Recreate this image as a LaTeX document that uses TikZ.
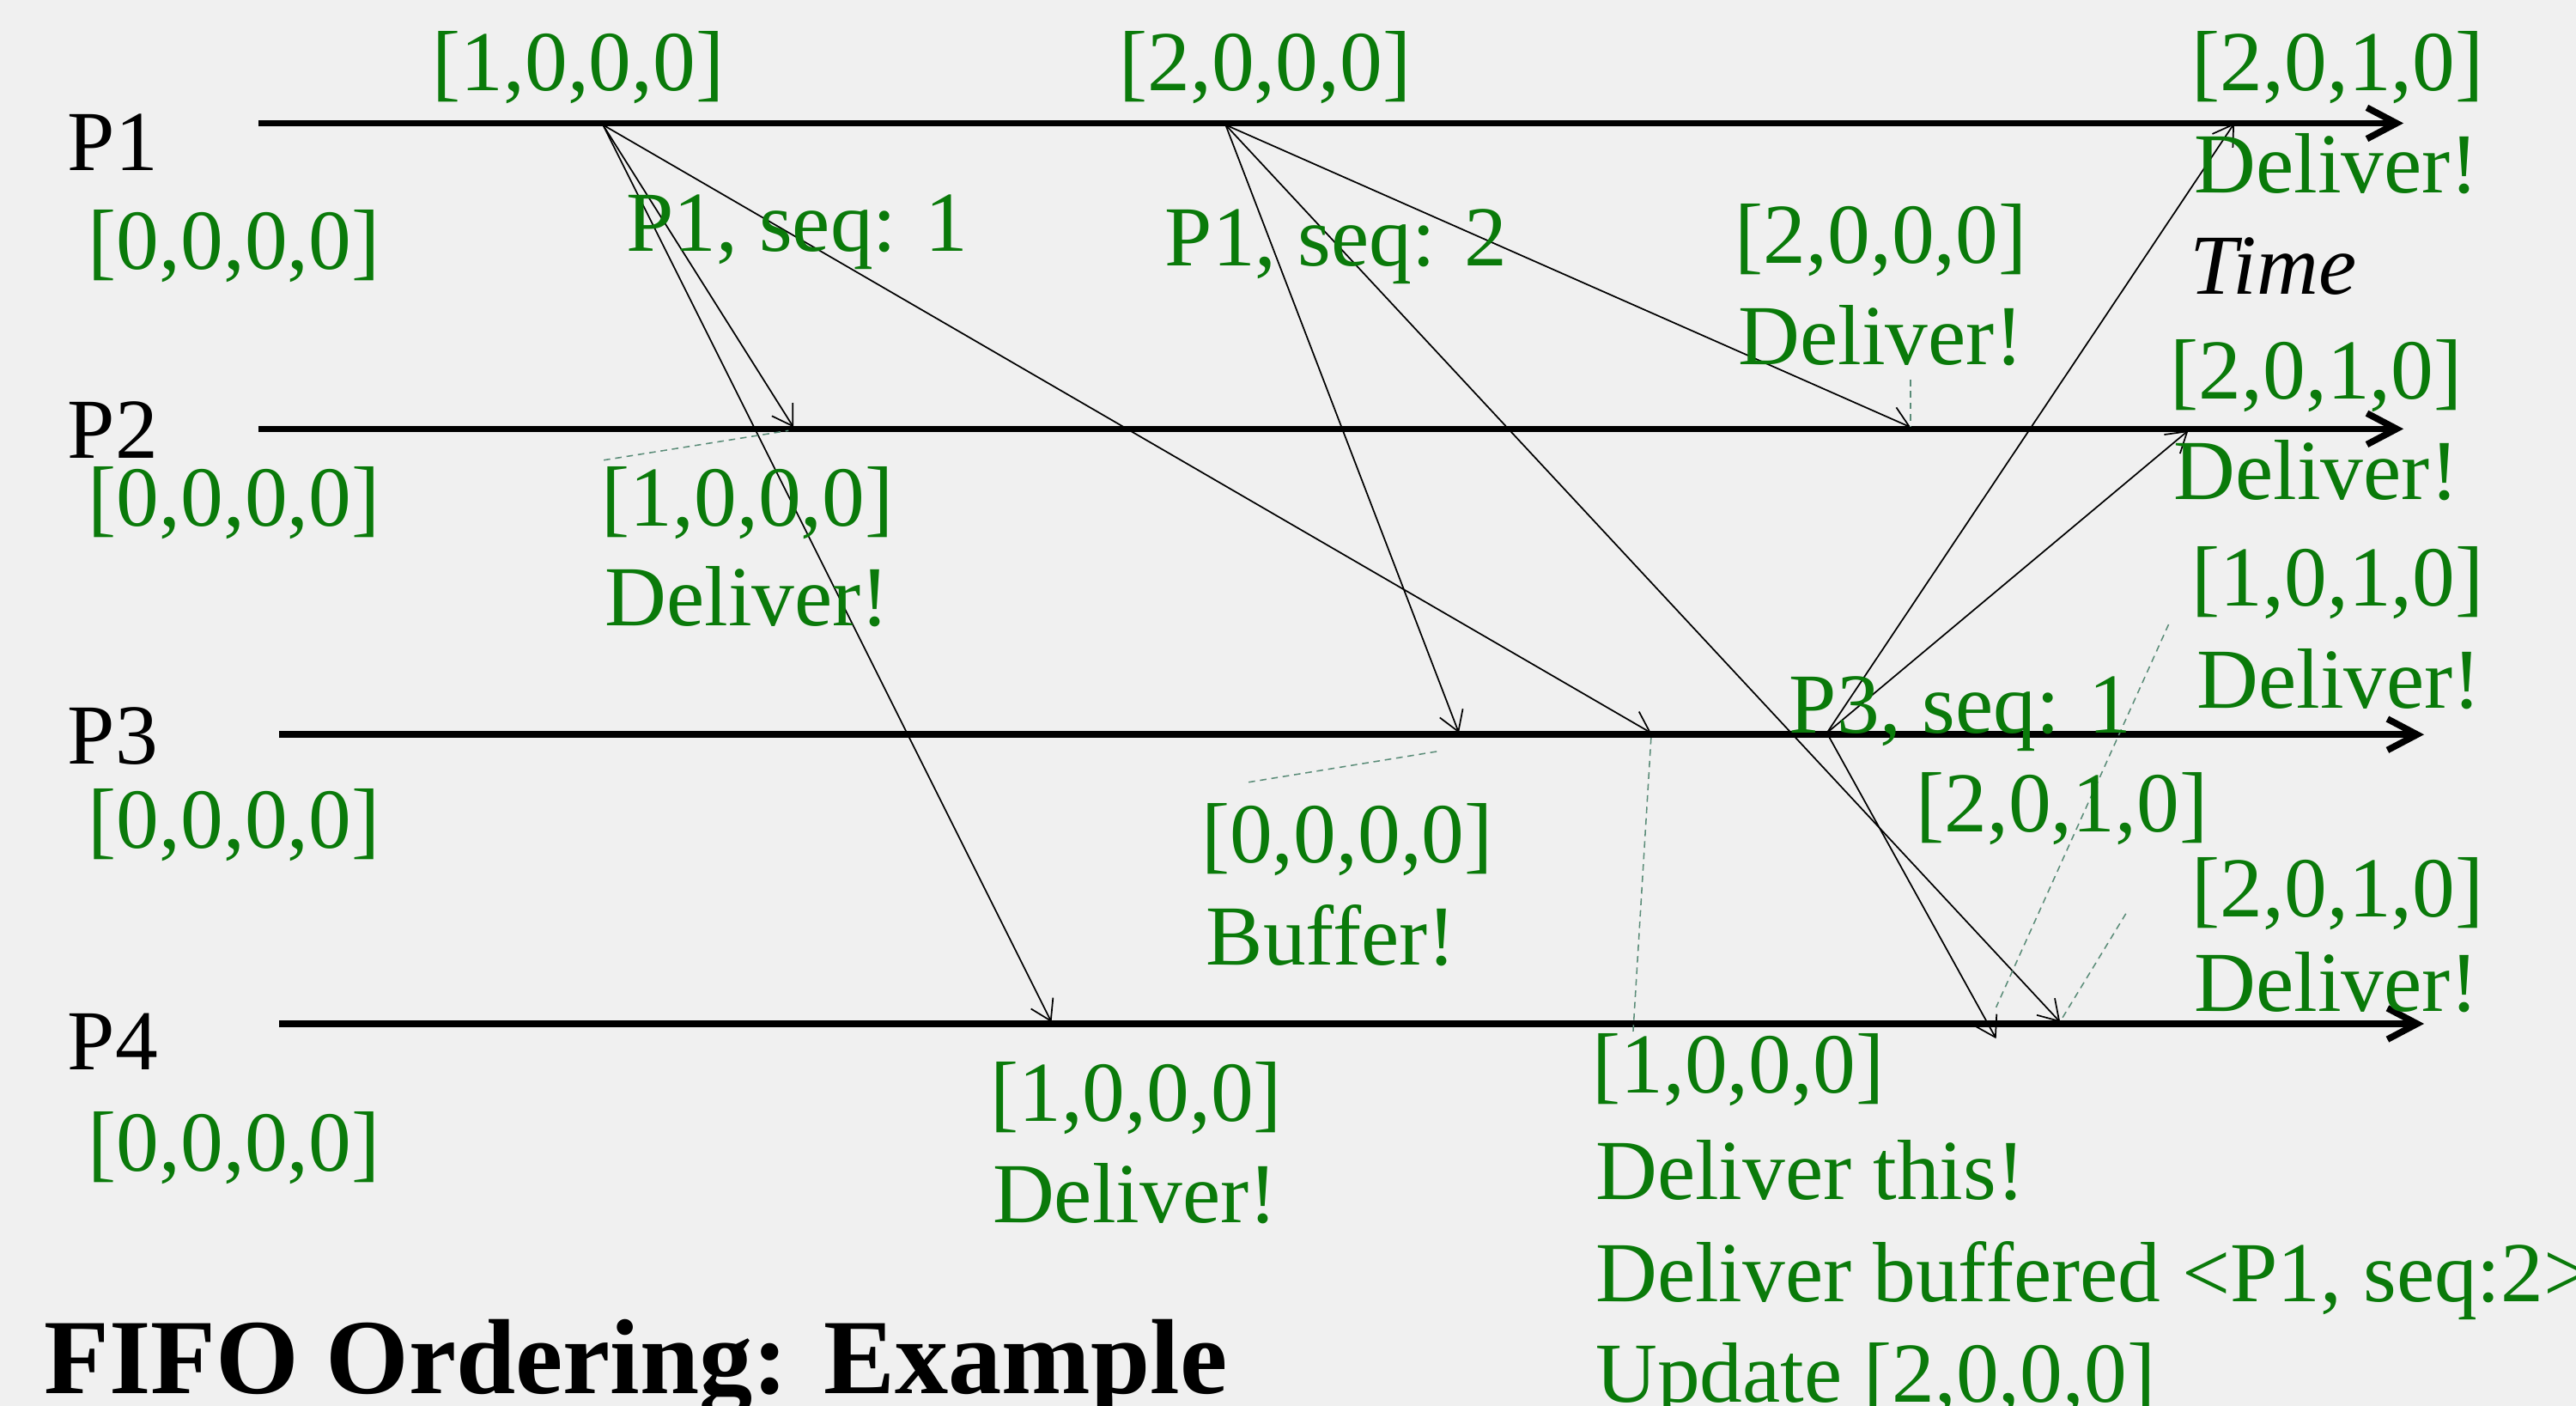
\documentclass[tikz,border=0pt]{standalone}
\usepackage{fontspec}
\setmainfont{Liberation Serif}
\usetikzlibrary{arrows.meta}
\definecolor{bgcol}{RGB}{240,240,240}
\definecolor{lblgreen}{RGB}{10,122,10}
\definecolor{ptrcol}{RGB}{90,140,120}
\begin{document}
\begin{tikzpicture}[x=1pt,y=-1pt,
  lbl/.style={anchor=base west, inner sep=0pt, text=lblgreen, font=\fontsize{52}{60}\selectfont},
  proc/.style={anchor=base west, inner sep=0pt, text=black, font=\fontsize{52}{60}\selectfont},
  titletext/.style={anchor=base west, inner sep=0pt, text=black, font=\fontsize{65}{70}\selectfont\bfseries},
  timeline/.style={line width=4pt, -{Straight Barb[length=18pt,width=19pt]}},
  msg/.style={line width=0.9pt, -{Straight Barb[length=12pt,width=15pt]}},
  ptrline/.style={draw=ptrcol, line width=0.8pt, dash pattern=on 4pt off 3pt}]
\useasboundingbox (0,0) rectangle (1568,855.6);
\clip (0,0) rectangle (1568,855.6);
\fill[bgcol] (0,0) rectangle (1568,855.6);

% timelines
\coordinate (p1s) at (157.5,75);  \coordinate (p1e) at (1463,75);
\coordinate (p2s) at (157.5,261); \coordinate (p2e) at (1463,261);
\coordinate (p3s) at (170,447);   \coordinate (p3e) at (1475.5,447);
\coordinate (p4s) at (170,623);   \coordinate (p4e) at (1475.5,623);
\draw[timeline] (p1s) -- (p1e);
\draw[timeline] (p2s) -- (p2e);
\draw[timeline] (p3s) -- (p3e);
\draw[timeline] (p4s) -- (p4e);

% events
\coordinate (sa) at (367,76);
\coordinate (sb) at (746,76);
\coordinate (sc) at (1112,446);
\coordinate (ra2) at (483,260);
\coordinate (ra4) at (640,622);
\coordinate (ra3) at (1005,446);
\coordinate (rb3) at (888,446);
\coordinate (rb2) at (1163,260);
\coordinate (rb4) at (1254,622);
\coordinate (rc1) at (1360,75);
\coordinate (rc2) at (1332,262);
\coordinate (rc4) at (1215,632);

\draw[msg] (sa) -- (ra2);
\draw[msg] (sa) -- (ra4);
\draw[msg] (sa) -- (ra3);
\draw[msg] (sb) -- (rb3);
\draw[msg] (sb) -- (rb2);
\draw[msg] (sb) -- (rb4);
\draw[msg] (sc) -- (rc1);
\draw[msg] (sc) -- (rc2);
\draw[msg] (sc) -- (rc4);

% dashed pointers
\coordinate (g1a) at (367.5,280); \coordinate (g1b) at (480,262);
\coordinate (g2a) at (760,476);   \coordinate (g2b) at (876.5,457);
\coordinate (g3a) at (1163,231);  \coordinate (g3b) at (1163,260);
\coordinate (g4a) at (1005,449);  \coordinate (g4b) at (994,629);
\coordinate (g5a) at (1320,380);  \coordinate (g5b) at (1215,613);
\coordinate (g6a) at (1294,556);  \coordinate (g6b) at (1255,620);
\draw[ptrline] (g1a) -- (g1b);
\draw[ptrline] (g2a) -- (g2b);
\draw[ptrline] (g3a) -- (g3b);
\draw[ptrline] (g4a) -- (g4b);
\draw[ptrline] (g5a) -- (g5b);
\draw[ptrline] (g6a) -- (g6b);

% process labels
\node[proc] (l1) at (41,104) {P1};
\node[proc] (l2) at (41,279) {P2};
\node[proc] (l3) at (41,465) {P3};
\node[proc] (l4) at (41,651) {P4};
\node[lbl] (v1) at (53.5,164) {[0,0,0,0]};
\node[lbl] (v2) at (53.5,320) {[0,0,0,0]};
\node[lbl] (v3) at (53.5,516) {[0,0,0,0]};
\node[lbl] (v4) at (53.5,712.6) {[0,0,0,0]};

% P1 labels
\node[lbl] (t1) at (263,55) {[1,0,0,0]};
\node[lbl] (t2) at (681,55) {[2,0,0,0]};
\node[lbl] (t3) at (1334,55) {[2,0,1,0]};
\node[lbl] (d1) at (1335.5,117.5) {Deliver!};
\node[proc, font=\fontsize{52}{60}\selectfont\itshape] (time) at (1333,179) {Time};
\node[lbl] (s1) at (381,153) {P1, seq: 1};
\node[lbl] (s2) at (709,162) {P1, seq: 2};

% P2 labels
\node[lbl] (t4) at (1056,160) {[2,0,0,0]};
\node[lbl] (d2) at (1058,222) {Deliver!};
\node[lbl] (t5) at (1321,243) {[2,0,1,0]};
\node[lbl] (d3) at (1323,304) {Deliver!};
\node[lbl] (t7) at (366,320) {[1,0,0,0]};
\node[lbl] (d5) at (368,381) {Deliver!};

% P3 labels
\node[lbl] (t6) at (1334,369) {[1,0,1,0]};
\node[lbl] (d4) at (1337,431) {Deliver!};
\node[lbl] (s3) at (1089,446) {P3, seq: 1};
\node[lbl] (t9) at (731,525) {[0,0,0,0]};
\node[lbl] (b1) at (734,587) {Buffer!};
\node[lbl] (t10) at (1166,506) {[2,0,1,0]};

% P4 labels
\node[lbl] (t11) at (1334,558) {[2,0,1,0]};
\node[lbl] (d7) at (1335.5,615.6) {Deliver!};
\node[lbl] (t8) at (602.5,682.5) {[1,0,0,0]};
\node[lbl] (d6) at (604,744) {Deliver!};
\node[lbl] (t12) at (969,665) {[1,0,0,0]};
\node[lbl] (d8) at (971,730) {Deliver this!};
\node[lbl] (d9) at (971,792) {Deliver buffered <P1, seq:2>};
\node[lbl] (d10) at (971,853) {Update [2,0,0,0]};

% title
\node[titletext] (title) at (26.5,848) {FIFO Ordering: Example};
\end{tikzpicture}
\end{document}
